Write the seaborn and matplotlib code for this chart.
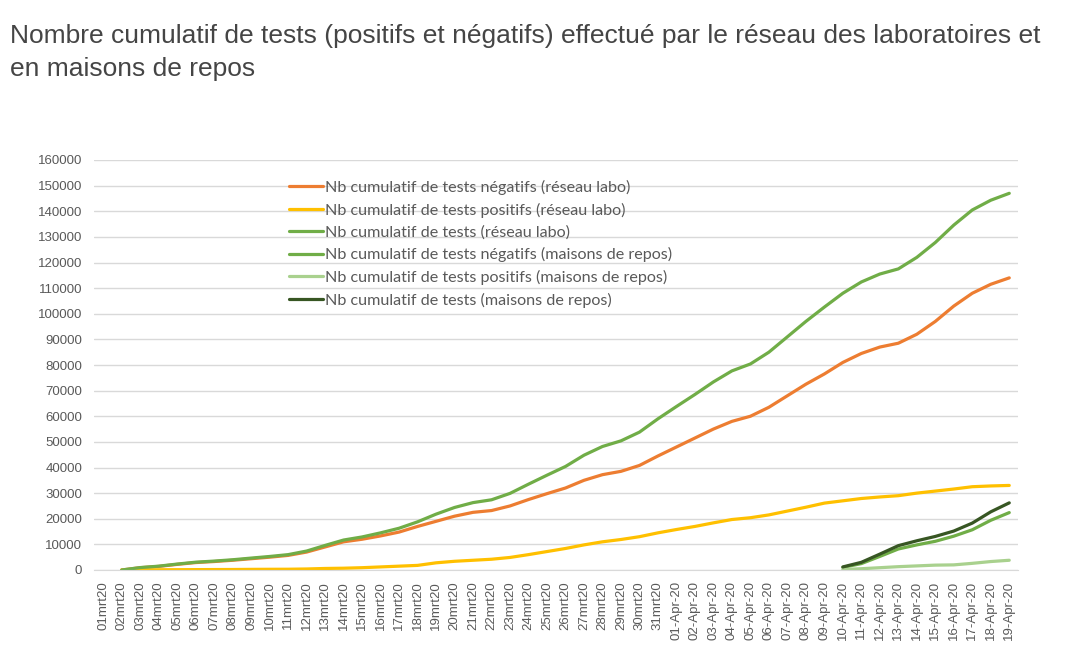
"""
Cumulative tests chart: lab network vs nursing homes (Belgium, Mar-Apr 2020).
"""

import matplotlib
matplotlib.use('Agg')
import matplotlib.pyplot as plt
import seaborn as sns
import pandas as pd
import numpy as np


# Category labels (x axis)
DATES = ([f'{d:02d}mrt20' for d in range(1, 32)]
         + [f'{d:02d}-Apr-20' for d in range(1, 20)])

# Lab network series, 02 Mar -> 19 Apr (01 Mar is empty)
NEG_LABO = [0, 900, 1400, 2200, 2900, 3300, 3800, 4400, 5000, 5700,
            7000, 9000, 11000, 12000, 13300, 14800, 17000, 19000, 21000, 22500,
            23200, 25000, 27500, 29800, 32000, 35000, 37200, 38500, 40800, 44500,
            48000, 51500, 55000, 58000, 60000, 63500, 68000, 72500, 76500, 81000,
            84500, 87000, 88500, 92000, 97000, 103000, 108000, 111500, 114000]
POS_LABO = [0, 50, 100, 120, 150, 180, 200, 250, 280, 300,
            400, 600, 700, 900, 1200, 1500, 1800, 2800, 3400, 3800,
            4200, 4900, 6000, 7200, 8400, 9800, 11000, 11900, 13000, 14500,
            15800, 17000, 18400, 19700, 20400, 21500, 23000, 24500, 26100, 27000,
            27900, 28500, 29000, 30000, 30800, 31600, 32500, 32800, 33000]
TOT_LABO = [0, 950, 1500, 2320, 3050, 3480, 4000, 4650, 5280, 6000,
            7400, 9600, 11700, 12900, 14500, 16300, 18800, 21800, 24400, 26300,
            27400, 29900, 33500, 37000, 40400, 44800, 48200, 50400, 53800, 59000,
            63800, 68500, 73400, 77700, 80400, 85000, 91000, 97000, 102600, 108000,
            112400, 115500, 117500, 122000, 127800, 134600, 140500, 144300, 147000]

# Nursing homes series, 10 Apr -> 19 Apr
NEG_MR = [1000, 2500, 5300, 8200, 9800, 11200, 13200, 15700, 19400, 22400]
POS_MR = [200, 500, 900, 1300, 1600, 1900, 2000, 2600, 3300, 3800]
TOT_MR = [1200, 3000, 6200, 9500, 11400, 13100, 15200, 18300, 22700, 26200]

LABELS = ['Nb cumulatif de tests négatifs (réseau labo)',
          'Nb cumulatif de tests positifs (réseau labo)',
          'Nb cumulatif de tests (réseau labo)',
          'Nb cumulatif de tests négatifs (maisons de repos)',
          'Nb cumulatif de tests positifs (maisons de repos)',
          'Nb cumulatif de tests (maisons de repos)']
COLORS = ['#ED7D31', '#FFC000', '#70AD47', '#70AD47', '#A9D18E', '#375623']

TITLE = ('Nombre cumulatif de tests (positifs et négatifs) effectué par le réseau des laboratoires et\n'
         'en maisons de repos')

sns.set_style('white')
plt.rcParams['font.family'] = ['Liberation Sans', 'DejaVu Sans']

# long-format table
rows = []
lab_x = np.arange(1, 50)
mr_x = np.arange(40, 50)
for lab, vals, xs in zip(LABELS,
                         [NEG_LABO, POS_LABO, TOT_LABO, NEG_MR, POS_MR, TOT_MR],
                         [lab_x, lab_x, lab_x, mr_x, mr_x, mr_x]):
    for x, v in zip(xs, vals):
        rows.append({'x': x, 'value': v, 'serie': lab})
df = pd.DataFrame(rows)

fig = plt.figure(figsize=(10.77, 6.62), dpi=100)
ax = fig.add_axes([94 / 1077, 1 - 570 / 662, (1018.5 - 94) / 1077, 410 / 662])

sns.lineplot(data=df, x='x', y='value', hue='serie', hue_order=LABELS,
             palette=dict(zip(LABELS, COLORS)), linewidth=2.3, ax=ax,
             legend=False)

ax.set_xlim(-0.5, 49.5)
ax.set_ylim(0, 160000)
ax.set_yticks(np.arange(0, 160001, 10000))
ax.set_yticklabels([str(v) for v in range(0, 160001, 10000)])
ax.set_xticks(np.arange(len(DATES)))
ax.set_xticklabels(DATES, rotation=90)
ax.tick_params(axis='both', colors='#595959', labelsize=9.5, length=0)
ax.tick_params(axis='y', pad=8.5)
ax.tick_params(axis='x', pad=8)
ax.grid(axis='y', color='#D9D9D9', linewidth=1)
ax.set_axisbelow(True)
for s in ['top', 'right', 'left']:
    ax.spines[s].set_visible(False)
ax.spines['bottom'].set_color('#D9D9D9')
ax.set_xlabel('')
ax.set_ylabel('')

handles = [plt.Line2D([], [], color=c, linewidth=2.3) for c in COLORS]
leg = ax.legend(handles, LABELS, loc='upper left', frameon=False,
                bbox_to_anchor=(289 / 1077, 1 - 180 / 662),
                bbox_transform=fig.transFigure,
                prop={'family': ['Lato', 'DejaVu Sans'], 'size': 11.6},
                handlelength=2.1, handletextpad=0.15, labelspacing=0.47,
                borderpad=0, borderaxespad=0)
for t in leg.get_texts():
    t.set_color('#595959')

fig.text(10 / 1077, 1 - 24 / 662, TITLE, ha='left', va='top',
         fontsize=19, color='#454545', linespacing=1.47)

fig.savefig('out.png', dpi=100)
